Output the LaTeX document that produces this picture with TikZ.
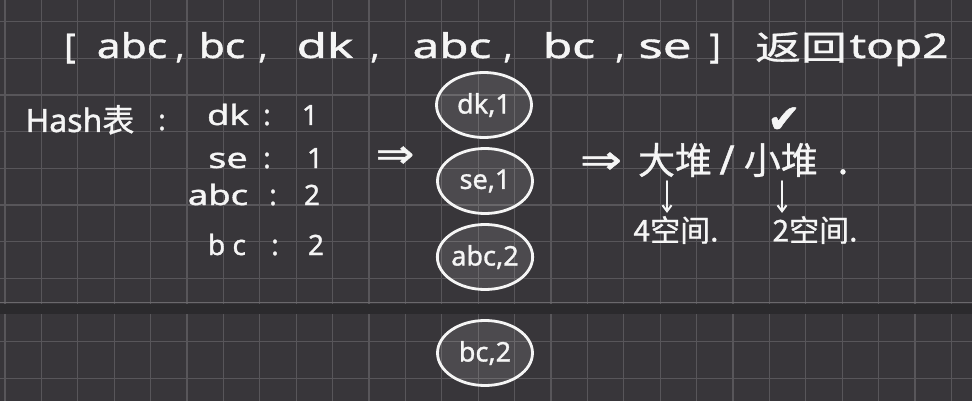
\documentclass[tikz,border=0pt]{standalone}
\usepackage{fontspec}
\usepackage{graphicx}
\setmainfont{Noto Sans}[FakeBold=1.2]
\newfontfamily\cjk{Noto Sans CJK SC}[FakeBold=0.8]
\newfontfamily\symf{DejaVu Sans}[FakeBold=1]
\usetikzlibrary{shapes.geometric,arrows.meta}
\definecolor{bgc}{HTML}{38363A}
\definecolor{gridc}{HTML}{58565A}
\definecolor{bandc}{HTML}{2B2A2D}
\definecolor{edgec}{HTML}{6A686C}
\definecolor{inkc}{HTML}{F5F5F5}
\newcommand{\fs}[1]{\fontsize{#1}{#1}\selectfont}
\newcommand{\hwide}[2][1.25]{\scalebox{#1}[1]{#2}}
\tikzset{
  ink/.style={text=inkc, inner sep=0pt},
  ttl/.style={ink, anchor=base, font=\fs{34}},
  hsh/.style={ink, anchor=base, font=\fs{28}},
  cjkt/.style={ink, font=\cjk\fs{37}},
  spc/.style={ink, font=\cjk\fs{30}},
  sym/.style={ink, font=\symf\fs{40}},
  rec/.style={ellipse, draw=inkc, line width=2.8pt, fill=white, fill opacity=0.1,
    text opacity=1, text=inkc, minimum width=95pt, minimum height=65pt,
    inner sep=0pt, font=\fs{27}},
  arr/.style={-{Straight Barb[length=6pt,width=9pt]}, draw=inkc, line width=2pt,
    line cap=round, shorten <=4pt, shorten >=3pt},
  gridline/.style={draw=gridc, line width=1.3pt},
}
\begin{document}
\begin{tikzpicture}[x=1pt,y=-1pt]
\useasboundingbox (0,0) rectangle (972,401);
% background and grid
\fill[bgc] (0,0) rectangle (972,401);
\foreach \k in {0,...,26} \draw[gridline] ({5+36.4*\k},0) -- ({5+36.4*\k},401);
\foreach \yy in {21.7,58.4,95,131.7,168.4,205,241.7,278.4,341.7,378.3}
  \draw[gridline] (0,\yy) -- (972,\yy);
\draw[draw=edgec, line width=1.4pt] (0,302.5) -- (972,302.5);
\fill[bandc] (0,303.5) rectangle (972,314);

% title
\node[ttl] (tlb) at (70,58) {[};
\node[ttl] (t1) at (132,58) {\hwide{abc}};
\node[ttl] (c1) at (180,58) {,};
\node[ttl] (t2) at (222,58) {\hwide{bc}};
\node[ttl] (c2) at (263,58) {,};
\node[ttl] (t3) at (325,58) {\hwide[1.45]{dk}};
\node[ttl] (c3) at (375,58) {,};
\node[ttl] (t4) at (452,58) {\hwide[1.4]{abc}};
\node[ttl] (c4) at (508,58) {,};
\node[ttl] (t5) at (569,58) {\hwide[1.4]{bc}};
\node[ttl] (c5) at (620,58) {,};
\node[ttl] (t6) at (665,58) {\hwide[1.5]{se}};
\node[ttl] (trb) at (715,58) {]};
\node[ttl, font=\cjk\fs{34}] (tfh) at (801,60) {\hwide[1.35]{返回}};
\node[ttl] (ttp) at (899,58) {\hwide[1.35]{top2}};

% hash table
\node[ink, anchor=base, font=\fs{32}] (hk) at (80,132) {Hash\cjk 表};
\node[hsh] (hc) at (162,130) {:};
\node[hsh] (r1k) at (228,125) {\hwide[1.3]{dk}};
\node[hsh] (r1c) at (267,125) {:};
\node[hsh] (r1v) at (310,125) {1};
\node[hsh] (r2k) at (228,168) {\hwide[1.35]{se}};
\node[hsh] (r2c) at (267,168) {:};
\node[hsh] (r2v) at (315,168) {1};
\node[hsh] (r3k) at (218,205) {\hwide[1.3]{abc}};
\node[hsh] (r3c) at (273,205) {:};
\node[hsh] (r3v) at (312,205) {2};
\node[hsh] (r4k) at (227,255) {b c};
\node[hsh] (r4c) at (275,255) {:};
\node[hsh] (r4v) at (316,255) {2};

% first implication
\node[sym] (ar1) at (395,157) {\hwide[1.15]{⇒}};

% ellipses
\node[rec] (e1) at (484,105) {dk,1};
\node[rec] (e2) at (485,181) {se,1};
\node[rec] (e3) at (485,257) {abc,2};
\node[rec] (e4) at (485,353) {bc,2};

% right side
\node[sym] (ar2) at (601,163) {\hwide[1.25]{⇒}};
\node[cjkt] (dadui) at (675,160) {大堆};
\node[ink, font=\fs{40}] (sl) at (727,160) {/};
\node[cjkt] (xiaodui) at (796,160) {小堆\hspace{20pt}.};
\node[ink, font=\symf\fs{40}] (chk) at (784,120) {✔};
\node[spc] (kong4) at (676,230) {4空间.};
\node[spc] (kong2) at (815,230) {2空间.};
\draw[arr] ([xshift=-8pt]dadui.south) -- ([xshift=-8pt]dadui.south |- kong4.north);
\draw[arr] ([xshift=-14pt]xiaodui.south) -- ([xshift=-14pt]xiaodui.south |- kong2.north);
\end{tikzpicture}
\end{document}
